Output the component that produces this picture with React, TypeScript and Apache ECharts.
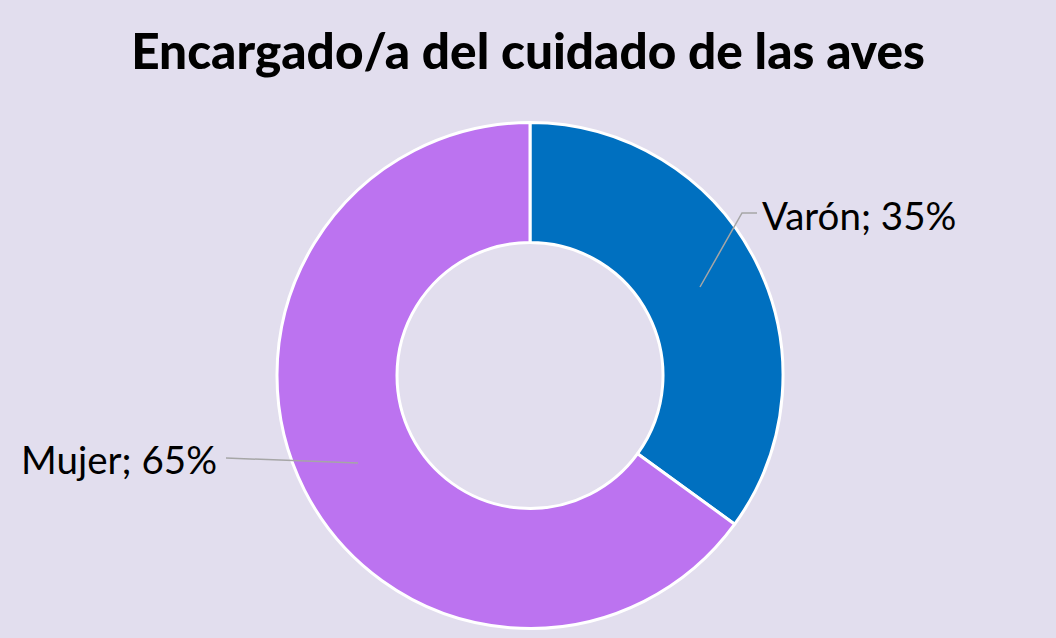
import React, { useEffect, useRef } from "react";
import * as echarts from "echarts";

const titleText = "Encargado/a del cuidado de las aves";
const categories = ["Varón", "Mujer"];
const values = [35, 65];
const colors = ["#0070C0", "#BC73F0"];

export default function App() {
  const ref = useRef<HTMLDivElement>(null);
  useEffect(() => {
    const chart = echarts.init(ref.current!, undefined, { renderer: "svg" });
    const lineStyle = { stroke: "#A6A6A6", lineWidth: 1.5, fill: "none" };
    chart.setOption({
      animation: false,
      backgroundColor: "#E2DEEE",
      title: {
        text: titleText,
        left: "center",
        top: 20,
        textStyle: { fontFamily: "Lato", fontWeight: 900, fontSize: 49.5, color: "#000" },
      },
      graphic: [
        { type: "polyline", z: 100, shape: { points: [[700, 287], [742, 213], [757, 213]] }, style: lineStyle },
        { type: "polyline", z: 100, shape: { points: [[358, 463], [226, 458]] }, style: lineStyle },
      ],
      series: [
        {
          type: "pie",
          center: [530, 375.5],
          radius: [133, 253],
          startAngle: 90,
          clockwise: true,
          itemStyle: { borderColor: "#ffffff", borderWidth: 3 },
          label: {
            show: true,
            formatter: (p: any) => `${p.name}; ${p.value}%`,
            fontFamily: "Lato",
            fontSize: 38.5,
            color: "#000",
          },
          labelLine: { show: false },
          labelLayout: (params: any) => {
            if (params.dataIndex === 0) {
              return { x: 762, y: 215, align: "left", verticalAlign: "middle" };
            }
            return { x: 217, y: 459, align: "right", verticalAlign: "middle" };
          },
          data: categories.map((c, i) => ({ name: c, value: values[i], itemStyle: { color: colors[i] } })),
        },
      ],
    });
    return () => chart.dispose();
  }, []);
  return <div ref={ref} style={{ position: "fixed", left: 0, top: 0, width: 1056, height: 638 }} />;
}
